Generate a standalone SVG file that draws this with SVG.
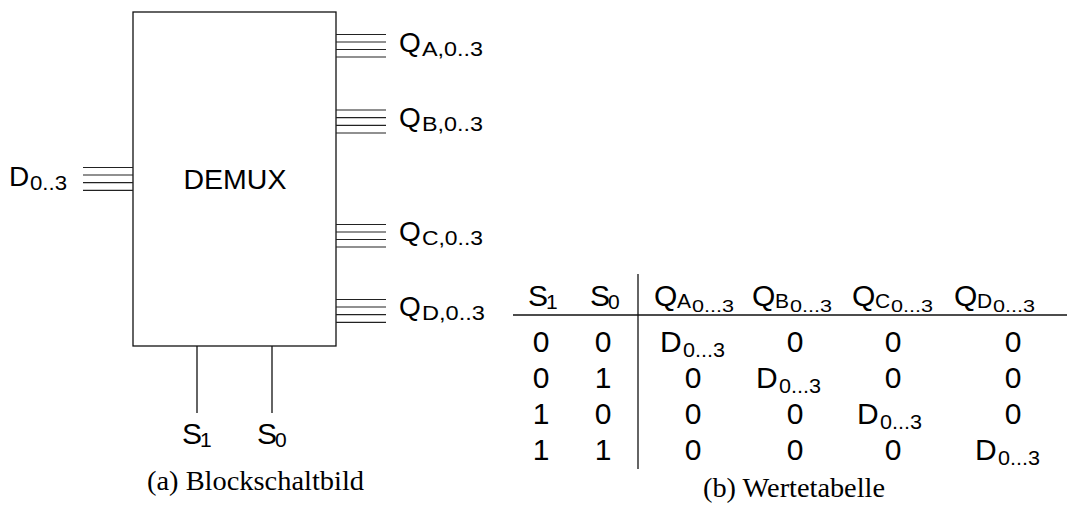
<svg xmlns="http://www.w3.org/2000/svg" width="1067" height="506" viewBox="0 0 1067 506">
<style>
.s{font-family:"Liberation Sans",Arial,sans-serif;fill:#000}
.cap{font-family:"Liberation Serif","Times New Roman",serif;fill:#000;font-size:27px}
.ln{stroke:#111;stroke-width:1.3;fill:none}
.bus{stroke:#222;stroke-width:1.2}
.lb{font-size:28px}
.sb{font-size:20px}
.tb{font-size:30px}
.ts{font-size:21px}
.tss{font-size:16px}
</style>
<rect fill="#fff" width="1067" height="506"/>
<g id="demux">
<rect x="133" y="12" width="203" height="334" class="ln"/>
<text x="235" y="189" font-size="28" text-anchor="middle" class="s" textLength="103" lengthAdjust="spacingAndGlyphs">DEMUX</text>
</g>
<g id="connectors">
<g id="busD" class="bus"><line x1="83" y1="167.5" x2="133" y2="167.5"/><line x1="83" y1="175" x2="133" y2="175"/><line x1="83" y1="182.7" x2="133" y2="182.7"/><line x1="83" y1="190.3" x2="133" y2="190.3"/></g>
<g id="busQA" class="bus"><line x1="336" y1="34.5" x2="386" y2="34.5"/><line x1="336" y1="42" x2="386" y2="42"/><line x1="336" y1="49.5" x2="386" y2="49.5"/><line x1="336" y1="57" x2="386" y2="57"/></g>
<g id="busQB" class="bus"><line x1="336" y1="110" x2="386" y2="110"/><line x1="336" y1="117.7" x2="386" y2="117.7"/><line x1="336" y1="125.3" x2="386" y2="125.3"/><line x1="336" y1="133" x2="386" y2="133"/></g>
<g id="busQC" class="bus"><line x1="336" y1="224.5" x2="386" y2="224.5"/><line x1="336" y1="232" x2="386" y2="232"/><line x1="336" y1="239.5" x2="386" y2="239.5"/><line x1="336" y1="247" x2="386" y2="247"/></g>
<g id="busQD" class="bus"><line x1="336" y1="299.5" x2="386" y2="299.5"/><line x1="336" y1="307" x2="386" y2="307"/><line x1="336" y1="314.7" x2="386" y2="314.7"/><line x1="336" y1="322.3" x2="386" y2="322.3"/></g>
<line class="ln" x1="197" y1="346" x2="197" y2="413"/>
<line class="ln" x1="272" y1="346" x2="272" y2="413"/>
</g>
<g id="labelD"><text class="s lb" x="9" y="186">D</text><text class="s sb" x="30" y="190" textLength="37" lengthAdjust="spacingAndGlyphs">0..3</text></g>
<g id="labelQA"><text class="s lb" x="399" y="52">Q</text><text class="s sb" x="422" y="56" textLength="61" lengthAdjust="spacingAndGlyphs">A,0..3</text></g>
<g id="labelQB"><text class="s lb" x="399" y="127">Q</text><text class="s sb" x="422" y="131" textLength="61" lengthAdjust="spacingAndGlyphs">B,0..3</text></g>
<g id="labelQC"><text class="s lb" x="399" y="241">Q</text><text class="s sb" x="422" y="245" textLength="61" lengthAdjust="spacingAndGlyphs">C,0..3</text></g>
<g id="labelQD"><text class="s lb" x="399" y="316">Q</text><text class="s sb" x="422" y="320" textLength="63" lengthAdjust="spacingAndGlyphs">D,0..3</text></g>
<g id="labelS1"><text class="s tb" x="182" y="444">S</text><text class="s ts" x="200" y="447">1</text></g>
<g id="labelS0"><text class="s tb" x="257" y="444">S</text><text class="s ts" x="275" y="447">0</text></g>
<text class="cap" x="147" y="490" textLength="217" lengthAdjust="spacingAndGlyphs">(a) Blockschaltbild</text>
<g id="table">
<line class="ln" x1="638" y1="274" x2="638" y2="469"/>
<line class="ln" x1="513" y1="315" x2="1067" y2="315"/>
<g id="header">
<text class="s tb" x="528" y="306">S</text><text class="s ts" x="546" y="309">1</text>
<text class="s tb" x="590" y="306">S</text><text class="s ts" x="608" y="309">0</text>
<text class="s tb" x="654" y="306">Q</text><text class="s ts" x="677" y="308">A</text><text class="s tss" x="692" y="312" textLength="42" lengthAdjust="spacingAndGlyphs">0...3</text>
<text class="s tb" x="752" y="306">Q</text><text class="s ts" x="775" y="308">B</text><text class="s tss" x="790" y="312" textLength="42" lengthAdjust="spacingAndGlyphs">0...3</text>
<text class="s tb" x="852" y="306">Q</text><text class="s ts" x="875" y="308">C</text><text class="s tss" x="891" y="312" textLength="42" lengthAdjust="spacingAndGlyphs">0...3</text>
<text class="s tb" x="954" y="306">Q</text><text class="s ts" x="977" y="308">D</text><text class="s tss" x="993" y="312" textLength="42" lengthAdjust="spacingAndGlyphs">0...3</text>
</g>
<g id="rows" class="s tb" text-anchor="middle">
<text x="541" y="352">0</text><text x="603" y="352">0</text><text x="795" y="352">0</text><text x="893" y="352">0</text><text x="1013" y="352">0</text>
<text x="541" y="388">0</text><text x="603" y="388">1</text><text x="693" y="388">0</text><text x="893" y="388">0</text><text x="1013" y="388">0</text>
<text x="541" y="424">1</text><text x="603" y="424">0</text><text x="693" y="424">0</text><text x="795" y="424">0</text><text x="1013" y="424">0</text>
<text x="541" y="460">1</text><text x="603" y="460">1</text><text x="693" y="460">0</text><text x="795" y="460">0</text><text x="893" y="460">0</text>
</g>
<g id="dcells">
<text class="s tb" x="660" y="352">D</text><text class="s ts" x="683" y="357" textLength="42" lengthAdjust="spacingAndGlyphs">0...3</text>
<text class="s tb" x="756" y="388">D</text><text class="s ts" x="779" y="393" textLength="42" lengthAdjust="spacingAndGlyphs">0...3</text>
<text class="s tb" x="857" y="424">D</text><text class="s ts" x="880" y="429" textLength="42" lengthAdjust="spacingAndGlyphs">0...3</text>
<text class="s tb" x="975" y="460">D</text><text class="s ts" x="998" y="465" textLength="42" lengthAdjust="spacingAndGlyphs">0...3</text>
</g>
</g>
<text class="cap" x="703" y="497" textLength="182" lengthAdjust="spacingAndGlyphs">(b) Wertetabelle</text>
</svg>
